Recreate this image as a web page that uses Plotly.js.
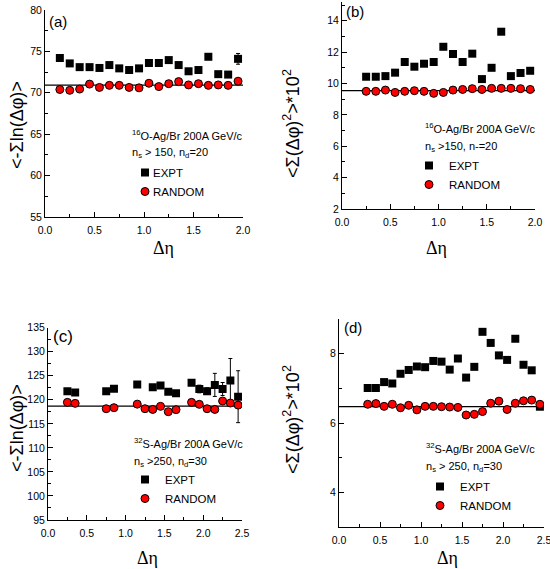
<!DOCTYPE html>
<html>
<head>
<meta charset="utf-8">
<script src="https://cdn.plot.ly/plotly-3.0.1.min.js"></script>
<style>html,body{margin:0;padding:0;background:#fff}#chart{width:550px;height:569px}</style>
</head>
<body>
<div id="chart"></div>
<script>
// ---- Data ----
var etaA = [0.15,0.25,0.35,0.45,0.55,0.65,0.75,0.85,0.95,1.05,1.15,1.25,1.35,1.45,1.55,1.65,1.75,1.85,1.95];
var exptA = [74.2,73.55,73.1,73.1,73.0,73.35,72.95,72.75,72.95,73.6,73.6,73.95,73.35,72.6,72.75,74.35,72.25,72.2,74.1];
var exptAerr = [0,0,0,0,0,0,0,0,0,0,0,0,0,0,0,0,0,0,0.65];
var randA = [70.4,70.3,70.45,71.05,70.65,70.9,70.9,70.65,70.6,71.15,70.75,71.1,71.35,70.95,71.1,70.9,70.95,70.9,71.4];
var refA = [70.93];

var etaB = [0.25,0.35,0.45,0.55,0.65,0.75,0.85,0.95,1.05,1.15,1.25,1.35,1.45,1.55,1.65,1.75,1.85,1.95];
var exptB = [10.43,10.43,10.47,10.69,11.37,11.07,11.26,11.37,12.34,11.88,11.37,11.9,10.28,11.0,13.3,10.47,10.67,10.81];
var randB = [9.5,9.5,9.58,9.43,9.5,9.54,9.5,9.37,9.43,9.58,9.62,9.67,9.62,9.69,9.69,9.69,9.67,9.62];
var refB = [9.55];

var etaC = [0.25,0.35,0.75,0.85,1.15,1.35,1.45,1.55,1.65,1.85,1.95,2.05,2.15,2.25,2.35,2.45];
var exptC = [121.8,121.5,121.8,122.3,123.2,122.6,123.0,121.7,121.35,123.55,122.25,121.8,123.1,122.25,124.0,120.65];
var exptCerr = [0,0,0,0,0,0,0,0,0,0,0.8,0.7,2.4,1.35,4.6,5.4];
var etaCr = [0.25,0.35,0.75,0.85,1.15,1.25,1.35,1.45,1.55,1.65,1.85,1.95,2.05,2.15,2.25,2.35,2.45];
var randC = [119.47,119.26,118.15,118.36,119.1,118.15,118.0,118.64,117.53,117.95,119.47,119.06,118.15,118.0,119.75,119.33,118.9];
var refC = [118.7];

var etaD = [0.35,0.45,0.55,0.65,0.75,0.85,0.95,1.05,1.15,1.25,1.35,1.45,1.55,1.65,1.75,1.85,1.95,2.05,2.15,2.25,2.35,2.45];
var exptD = [7.01,7.01,7.18,7.14,7.42,7.53,7.63,7.61,7.79,7.77,7.54,7.86,7.31,7.62,8.63,8.31,7.95,7.82,8.43,7.68,7.52,6.47];
var randD = [6.54,6.56,6.48,6.54,6.44,6.51,6.38,6.48,6.48,6.47,6.46,6.45,6.23,6.25,6.33,6.57,6.63,6.39,6.57,6.64,6.66,6.54];
var refD = [6.47];

var seriesNames = ['EXPT','RANDOM'];
var xRanges = [[0,2.0],[0,2.0],[0,2.5],[0,2.5]];

// ---- Styles ----
var SANS = 'Liberation Sans, Arial, sans-serif';
var SERIF = 'Liberation Serif, Times New Roman, serif';
var sqMarker = {symbol:'square', size:8, color:'#000000'};
var ciMarker = {symbol:'circle', size:8, color:'#ff0000', line:{color:'#000000', width:1}};

function ref(xr, val, xa, ya){
  return {x:[xr[0], xr[1]], y:[val[0], val[0]], mode:'lines', line:{color:'#000', width:1.3},
          xaxis:xa, yaxis:ya, showlegend:false, hoverinfo:'skip'};
}
function pts(x, y, name, marker, xa, ya, lg, err){
  var t = {x:x, y:y, name:name, mode:'markers', marker:marker, xaxis:xa, yaxis:ya, legend:lg, showlegend:true};
  if (err) t.error_y = {type:'data', array:err, visible:true, color:'#000', thickness:1, width:2};
  return t;
}

var data = [
  ref(xRanges[0], refA, 'x', 'y'),
  pts(etaA, exptA, seriesNames[0], sqMarker, 'x', 'y', 'legend', exptAerr),
  pts(etaA, randA, seriesNames[1], ciMarker, 'x', 'y', 'legend'),
  ref(xRanges[1], refB, 'x2', 'y2'),
  pts(etaB, exptB, seriesNames[0], sqMarker, 'x2', 'y2', 'legend2'),
  pts(etaB, randB, seriesNames[1], ciMarker, 'x2', 'y2', 'legend2'),
  ref(xRanges[2], refC, 'x3', 'y3'),
  pts(etaC, exptC, seriesNames[0], sqMarker, 'x3', 'y3', 'legend3', exptCerr),
  pts(etaCr, randC, seriesNames[1], ciMarker, 'x3', 'y3', 'legend3'),
  ref(xRanges[3], refD, 'x4', 'y4'),
  pts(etaD, exptD, seriesNames[0], sqMarker, 'x4', 'y4', 'legend4'),
  pts(etaD, randD, seriesNames[1], ciMarker, 'x4', 'y4', 'legend4')
];

function xax(dom, rng, anchor){
  return {domain:dom, range:rng, anchor:anchor, dtick:0.5, tick0:0, ticks:'inside', ticklen:5, tickwidth:1,
          tickcolor:'#000', showline:true, linecolor:'#000', linewidth:1, showgrid:false, zeroline:false,
          tickformat:'.1f', tickfont:{family:SANS, size:10.5, color:'#000'}, ticklabeloverflow:'allow',
          ticklabelstandoff:3,
          minor:{dtick:0.25, ticks:'inside', ticklen:3, tickcolor:'#000', showgrid:false}};
}
function yax(dom, rng, anchor, dt){
  return {domain:dom, range:rng, anchor:anchor, dtick:dt, tick0:0, ticks:'inside', ticklen:5, tickwidth:1,
          tickcolor:'#000', showline:true, linecolor:'#000', linewidth:1, showgrid:false, zeroline:false,
          tickfont:{family:SANS, size:10.5, color:'#000'},
          minor:{dtick:dt/2, ticks:'inside', ticklen:3, tickcolor:'#000', showgrid:false}};
}
function leg(xpx, ypx){
  return {x:xpx/550, y:1-ypx/569, xanchor:'left', yanchor:'top', bgcolor:'rgba(0,0,0,0)',
          font:{family:SANS, size:11.5, color:'#000'}, tracegroupgap:0, itemwidth:30};
}
function ann(xpx, ypx, text, font, extra){
  var a = {xref:'paper', yref:'paper', x:xpx/550, y:1-ypx/569, text:text, showarrow:false,
           xanchor:'left', yanchor:'middle', font:font};
  for (var k in extra) a[k] = extra[k];
  return a;
}
var noteFont = {family:SANS, size:11, color:'#000'};
var panelFont = {family:SANS, size:15, color:'#000'};
var ytFont = {family:SANS, size:18, color:'#000'};
var xtFont = {family:SERIF, size:18, color:'#000'};

var layout = {
  width:550, height:569, margin:{l:0,r:0,t:0,b:0}, paper_bgcolor:'#fff', plot_bgcolor:'rgba(0,0,0,0)',
  showlegend:true,
  xaxis: xax([45/550, 243/550], xRanges[0], 'y'),
  yaxis: yax([1-217/569, 1-10/569], [55,80], 'x', 5),
  xaxis2: xax([342/550, 535/550], xRanges[1], 'y2'),
  yaxis2: yax([1-209/569, 1-1.9/569], [2,15.2], 'x2', 2),
  xaxis3: xax([48/550, 242/550], xRanges[2], 'y3'),
  yaxis3: yax([1-520/569, 1-327.7/569], [95,135], 'x3', 5),
  xaxis4: xax([339/550, 544/550], xRanges[3], 'y4'),
  yaxis4: yax([1-527/569, 1-319/569], [3,9], 'x4', 2),
  legend: leg(125, 158),
  legend2: leg(409, 151),
  legend3: leg(125, 465),
  legend4: leg(420, 472),
  annotations: [
    ann(47, 22, '(a)', panelFont),
    ann(344, 12, '(b)', panelFont),
    ann(51, 337, '(c)', {family:SANS, size:17, color:'#000'}),
    ann(342, 328, '(d)', panelFont),
    ann(130, 135, '<sup>16</sup>O-Ag/Br 200A GeV/c', noteFont),
    ann(130, 153, 'n<sub>s</sub> &gt; 150, n<sub>d</sub>=20', noteFont),
    ann(423, 128, '<sup>16</sup>O-Ag/Br 200A GeV/c', noteFont),
    ann(423, 147, 'n<sub>s</sub> &gt;150, n-=20', noteFont),
    ann(132, 443, '<sup>32</sup>S-Ag/Br 200A GeV/c', noteFont),
    ann(132, 462, 'n<sub>s</sub> &gt;250, n<sub>d</sub>=30', noteFont),
    ann(424, 448, '<sup>32</sup>S-Ag/Br 200A GeV/c', noteFont),
    ann(424, 467, 'n<sub>s</sub> &gt; 250, n<sub>d</sub>=30', noteFont),
    ann(17, 125, '&lt;-Σln(Δφ)&gt;', ytFont, {textangle:-90, xanchor:'center'}),
    ann(292, 124, '&lt;Σ(Δφ)<sup>2</sup>&gt;*10<sup>2</sup>', ytFont, {textangle:-90, xanchor:'center'}),
    ann(17, 428, '&lt;-Σln(Δφ)&gt;', ytFont, {textangle:-90, xanchor:'center'}),
    ann(291, 420, '&lt;Σ(Δφ)<sup>2</sup>&gt;*10<sup>2</sup>', ytFont, {textangle:-90, xanchor:'center'}),
    ann(163, 248, 'Δη', xtFont, {xanchor:'center'}),
    ann(436, 248, 'Δη', xtFont, {xanchor:'center'}),
    ann(147, 558, 'Δη', xtFont, {xanchor:'center'}),
    ann(447, 558, 'Δη', xtFont, {xanchor:'center'})
  ]
};

var gd = document.getElementById('chart');
Plotly.newPlot(gd, data, layout, {staticPlot:true, displayModeBar:false}).then(function(){
  // tighten the gap between legend symbols and their labels, as in the reference
  gd.querySelectorAll('.legendtext').forEach(function(t){
    var x = parseFloat(t.getAttribute('x')) || 40;
    t.setAttribute('x', x - 12);
  });
});
</script>
</body>
</html>
